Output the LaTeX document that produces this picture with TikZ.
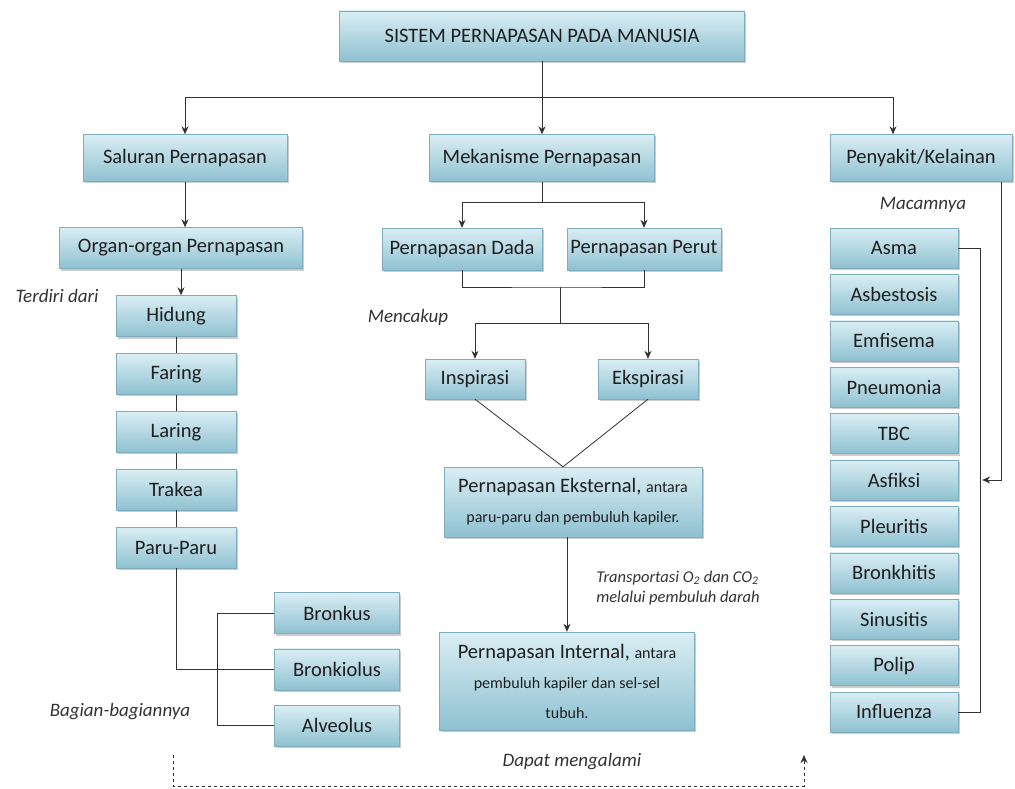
\documentclass[tikz,border=0pt]{standalone}
\usepackage{fontspec}
\setmainfont{Carlito}
\usepackage{tikz}
\usetikzlibrary{shapes,arrows,positioning,calc,shadows,arrows.meta}

\definecolor{boxtop}{HTML}{DAEEF4}
\definecolor{boxbot}{HTML}{8FC1D1}
\definecolor{boxline}{HTML}{80ADBD}
\definecolor{wire}{HTML}{333333}
\newcommand{\kecil}{\fontsize{16}{30}\selectfont}

\begin{document}
\begin{tikzpicture}[x=1pt, y=-1pt, node distance=6pt,
        block/.style={draw=boxline, rectangle, top color=boxtop, bottom color=boxbot, minimum height=41pt, align=center, inner sep=2pt, text=black!88, font=\fontsize{20.5}{30}\selectfont, drop shadow={shadow xshift=1.5pt, shadow yshift=-2pt, opacity=0.4}},
        organ/.style={block, minimum width=120pt},
        sick/.style={block, minimum width=128pt, minimum height=40pt},
        note/.style={font=\fontsize{19}{22}\selectfont\itshape, text=black!80},
        link/.style={draw=wire, line width=0.8pt},
        >={Stealth[length=8pt,width=7pt]}
    ]
        \useasboundingbox (0,0) rectangle (1015,789);

        \node [block, minimum width=405pt, minimum height=50pt] (title) at (542,36) {SISTEM PERNAPASAN PADA MANUSIA};
        \node [block, minimum width=204pt, minimum height=47pt] (salur) at (185,158) {Saluran Pernapasan};
        \node [block, minimum width=225pt, minimum height=47pt] (mek) at (542,158) {Mekanisme Pernapasan};
        \node [block, minimum width=182pt, minimum height=47pt] (peny) at (921,158) {Penyakit/Kelainan};

        \node [block, minimum width=243pt] (organ) at (181,248) {Organ-organ Pernapasan};
        \node [organ] (hidung) at (176,316) {Hidung};
        \node [organ, below=16.5pt of hidung] (faring) {Faring};
        \node [organ, below=16.5pt of faring] (laring) {Laring};
        \node [organ, below=16.5pt of laring] (trakea) {Trakea};
        \node [organ, below=16.5pt of trakea] (paru) {Paru-Paru};
        \node [block, minimum width=125pt] (bronkus) at (337,613) {Bronkus};
        \node [block, minimum width=125pt, below=15pt of bronkus] (bronkiolus) {Bronkiolus};
        \node [block, minimum width=125pt, below=15pt of bronkiolus] (alveolus) {Alveolus};

        \node [block, minimum width=160pt, minimum height=42pt] (dada) at (462,249) {Pernapasan Dada};
        \node [block, minimum width=154pt, minimum height=42pt] (perut) at (644,249) {Pernapasan Perut};
        \node [block, minimum width=100pt, minimum height=40pt] (insp) at (475,379) {Inspirasi};
        \node [block, minimum width=100pt, minimum height=40pt] (eksp) at (648,379) {Ekspirasi};
        \node [block, minimum width=258pt, minimum height=70pt] (ekst) at (573,502) {Pernapasan Eksternal, {\kecil antara}\\{\kecil paru-paru dan pembuluh kapiler.}};
        \node [block, minimum width=255pt, minimum height=98pt] (intl) at (567,681) {Pernapasan Internal, {\kecil antara}\\{\kecil pembuluh kapiler dan sel-sel}\\{\kecil tubuh.}};

        \node [sick] (asma) at (894,248) {Asma};
        \node [sick, below=of asma] (asbes) {Asbestosis};
        \node [sick, below=of asbes] (emfi) {Emfisema};
        \node [sick, below=of emfi] (pneu) {Pneumonia};
        \node [sick, below=of pneu] (tbc) {TBC};
        \node [sick, below=of tbc] (asfiksi) {Asfiksi};
        \node [sick, below=of asfiksi] (pleu) {Pleuritis};
        \node [sick, below=of pleu] (bronkh) {Bronkhitis};
        \node [sick, below=of bronkh] (sinus) {Sinusitis};
        \node [sick, below=of sinus] (polip) {Polip};
        \node [sick, below=of polip] (influ) {Influenza};

        \node [note] (terdiri) at (57,296) {Terdiri dari};
        \node [note] (cakup) at (408,317) {Mencakup};
        \node [note] (macam) at (923,205) {Macamnya};
        \node [note] (bagian) at (120,712) {Bagian-bagiannya};
        \node [note, font=\fontsize{16.5}{20}\selectfont\itshape, align=left] (trans) at (678,588) {Transportasi O\textsubscript{2} dan CO\textsubscript{2}\\melalui pembuluh darah};
        \node [note] (dapat) at (572,762) {Dapat mengalami};

        \coordinate (top) at (542,97);
        \coordinate (mid) at (542,202);
        \coordinate (join) at (560,287);
        \coordinate (fork) at (560,323);
        \coordinate (dstart) at (173,755);
        \coordinate (dend) at (804,755);

        \draw [link, ->] (title.south) -- (mek.north);
        \draw [link, ->] (top) -| (salur.north);
        \draw [link, ->] (top) -| ([xshift=-28pt]peny.north);
        \draw [link, ->] (salur.south) -- (salur.south |- organ.north);
        \draw [link, ->] (organ.south) -- (organ.south |- hidung.north);
        \draw [link] (hidung) -- (faring);
        \draw [link] (faring) -- (laring);
        \draw [link] (laring) -- (trakea);
        \draw [link] (trakea) -- (paru);
        \draw [link] (paru.south) |- (bronkiolus.west);
        \draw [link] (bronkus.west) -- ++(-57,0) |- (alveolus.west);

        \draw [link] (mek.south) -- (mid);
        \draw [link, ->] (mid) -| (dada.north);
        \draw [link, ->] (mid) -| (perut.north);
        \draw [link] (dada.south) |- (join) -| (perut.south);
        \draw [link] (join) -- (fork);
        \draw [link, ->] (fork) -| (insp.north);
        \draw [link, ->] (fork) -| (eksp.north);
        \draw [link] (insp.south) -- ([xshift=-10pt]ekst.north) -- (eksp.south);
        \draw [link, ->] (ekst.south -| intl.north) -- (intl.north);

        \draw [link] (asma.east) -- ++(22,0) |- (influ.east);
        \draw [link, ->] ([xshift=-11pt]peny.south east) |- ([xshift=24pt]asfiksi.east);

        \draw [link, dashed, ->] (dstart) -- ++(0,31) -| (dend);
    \end{tikzpicture}
\end{document}
